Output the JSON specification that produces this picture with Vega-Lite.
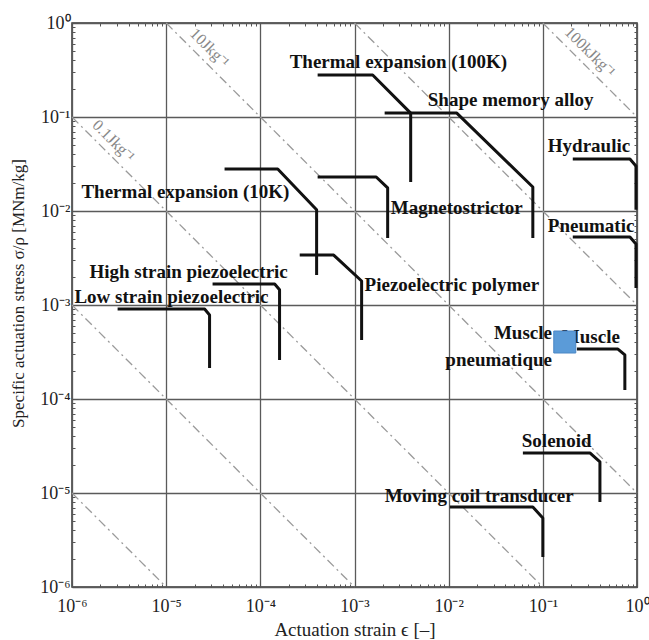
{
  "$schema": "https://vega.github.io/schema/vega-lite/v6.json",
  "width": 565,
  "height": 564,
  "autosize": "none",
  "padding": {"left": 72, "top": 23, "right": 12, "bottom": 53},
  "background": "white",
  "config": {
    "font": "Liberation Serif",
    "view": {"stroke": "#333", "strokeWidth": 1.5}
  },
  "datasets": {
    "curves": [
      {"s": "Thermal expansion (100K)", "i": 0, "x": 4.06e-4, "y": 0.28},
      {"s": "Thermal expansion (100K)", "i": 1, "x": 1.56e-3, "y": 0.28},
      {"s": "Thermal expansion (100K)", "i": 2, "x": 3.95e-3, "y": 0.110},
      {"s": "Thermal expansion (100K)", "i": 3, "x": 3.95e-3, "y": 0.0204},
      {"s": "Shape memory alloy", "i": 0, "x": 2.09e-3, "y": 0.110},
      {"s": "Shape memory alloy", "i": 1, "x": 0.0122, "y": 0.110},
      {"s": "Shape memory alloy", "i": 2, "x": 0.0783, "y": 0.018},
      {"s": "Shape memory alloy", "i": 3, "x": 0.0783, "y": 5.16e-3},
      {"s": "Thermal expansion (10K)", "i": 0, "x": 4.17e-5, "y": 0.028},
      {"s": "Thermal expansion (10K)", "i": 1, "x": 1.53e-4, "y": 0.028},
      {"s": "Thermal expansion (10K)", "i": 2, "x": 3.96e-4, "y": 0.0103},
      {"s": "Thermal expansion (10K)", "i": 3, "x": 3.96e-4, "y": 2.08e-3},
      {"s": "Piezoelectric polymer", "i": 0, "x": 2.62e-4, "y": 3.40e-3},
      {"s": "Piezoelectric polymer", "i": 1, "x": 6.01e-4, "y": 3.40e-3},
      {"s": "Piezoelectric polymer", "i": 2, "x": 1.19e-3, "y": 1.80e-3},
      {"s": "Piezoelectric polymer", "i": 3, "x": 1.19e-3, "y": 4.25e-4},
      {"s": "Magnetostrictor", "i": 0, "x": 4.06e-4, "y": 0.023},
      {"s": "Magnetostrictor", "i": 1, "x": 1.70e-3, "y": 0.023},
      {"s": "Magnetostrictor", "i": 2, "x": 2.25e-3, "y": 0.0176},
      {"s": "Magnetostrictor", "i": 3, "x": 2.25e-3, "y": 5.16e-3},
      {"s": "Hydraulic", "i": 0, "x": 0.208, "y": 0.0357},
      {"s": "Hydraulic", "i": 1, "x": 0.841, "y": 0.0357},
      {"s": "Hydraulic", "i": 2, "x": 0.975, "y": 0.0301},
      {"s": "Hydraulic", "i": 3, "x": 0.975, "y": 0.0103},
      {"s": "Pneumatic", "i": 0, "x": 0.208, "y": 5.28e-3},
      {"s": "Pneumatic", "i": 1, "x": 0.841, "y": 5.28e-3},
      {"s": "Pneumatic", "i": 2, "x": 0.975, "y": 4.46e-3},
      {"s": "Pneumatic", "i": 3, "x": 0.975, "y": 1.52e-3},
      {"s": "High strain piezoelectric", "i": 0, "x": 3.11e-5, "y": 1.67e-3},
      {"s": "High strain piezoelectric", "i": 1, "x": 1.42e-4, "y": 1.67e-3},
      {"s": "High strain piezoelectric", "i": 2, "x": 1.60e-4, "y": 1.45e-3},
      {"s": "High strain piezoelectric", "i": 3, "x": 1.60e-4, "y": 2.60e-4},
      {"s": "Low strain piezoelectric", "i": 0, "x": 3.05e-6, "y": 9.06e-4},
      {"s": "Low strain piezoelectric", "i": 1, "x": 2.56e-5, "y": 9.06e-4},
      {"s": "Low strain piezoelectric", "i": 2, "x": 2.89e-5, "y": 7.83e-4},
      {"s": "Low strain piezoelectric", "i": 3, "x": 2.89e-5, "y": 2.14e-4},
      {"s": "Muscle", "i": 0, "x": 0.230, "y": 3.40e-4},
      {"s": "Muscle", "i": 1, "x": 0.627, "y": 3.40e-4},
      {"s": "Muscle", "i": 2, "x": 0.743, "y": 2.94e-4},
      {"s": "Muscle", "i": 3, "x": 0.743, "y": 1.25e-4},
      {"s": "Solenoid", "i": 0, "x": 0.0614, "y": 2.67e-5},
      {"s": "Solenoid", "i": 1, "x": 0.316, "y": 2.67e-5},
      {"s": "Solenoid", "i": 2, "x": 0.404, "y": 2.14e-5},
      {"s": "Solenoid", "i": 3, "x": 0.404, "y": 8.0e-6},
      {"s": "Moving coil transducer", "i": 0, "x": 0.0103, "y": 7.10e-6},
      {"s": "Moving coil transducer", "i": 1, "x": 0.0783, "y": 7.10e-6},
      {"s": "Moving coil transducer", "i": 2, "x": 0.1, "y": 5.42e-6},
      {"s": "Moving coil transducer", "i": 3, "x": 0.1, "y": 2.08e-6}
    ],
    "energy": [
      {"p": "1e-11", "x": 1e-6, "y": 1e-5}, {"p": "1e-11", "x": 1e-5, "y": 1e-6},
      {"p": "1e-9", "x": 1e-6, "y": 1e-3}, {"p": "1e-9", "x": 1e-3, "y": 1e-6},
      {"p": "1e-7", "x": 1e-6, "y": 1e-1}, {"p": "1e-7", "x": 1e-1, "y": 1e-6},
      {"p": "1e-5", "x": 1e-5, "y": 1}, {"p": "1e-5", "x": 1, "y": 1e-5},
      {"p": "1e-3", "x": 1e-3, "y": 1}, {"p": "1e-3", "x": 1, "y": 1e-3},
      {"p": "1e-1", "x": 1e-1, "y": 1}, {"p": "1e-1", "x": 1, "y": 1e-1}
    ],
    "elabels": [
      {"t": "10Jkg⁻¹", "x": 2.89e-5, "y": 0.542},
      {"t": "0.1Jkg⁻¹", "x": 2.76e-6, "y": 0.0556},
      {"t": "100kJkg⁻¹", "x": 0.316, "y": 0.491}
    ],
    "labelsLeft": [
      {"t": "Thermal expansion (100K)", "x": 2.05e-4, "y": 0.385},
      {"t": "Shape memory alloy", "x": 6.0e-3, "y": 0.152},
      {"t": "Hydraulic", "x": 0.113, "y": 0.049},
      {"t": "Thermal expansion (10K)", "x": 1.26e-6, "y": 0.0159},
      {"t": "Magnetostrictor", "x": 2.43e-3, "y": 0.0108},
      {"t": "Pneumatic", "x": 0.113, "y": 6.92e-3},
      {"t": "High strain piezoelectric", "x": 1.53e-6, "y": 2.24e-3},
      {"t": "Low strain piezoelectric", "x": 1.06e-6, "y": 1.22e-3},
      {"t": "Piezoelectric polymer", "x": 1.28e-3, "y": 1.63e-3},
      {"t": "Solenoid", "x": 0.0598, "y": 3.57e-5},
      {"t": "Moving coil transducer", "x": 2.09e-3, "y": 9.29e-6},
      {"t": "Muscle", "x": 0.159, "y": 4.57e-4}
    ],
    "labelsRight": [
      {"t": "Muscle", "x": 0.125, "y": 5.04e-4},
      {"t": "pneumatique", "x": 0.125, "y": 2.60e-4}
    ],
    "square": [
      {"t": "Muscle pneumatique", "x": 0.171, "y": 4.04e-4}
    ]
  },
  "resolve": {"axis": {"x": "independent", "y": "independent"}},
  "layer": [
    {
      "data": {"name": "energy"},
      "mark": {"type": "line", "color": "#9a9a9a", "strokeWidth": 1.3, "strokeDash": [9, 4, 2, 4]},
      "encoding": {
        "x": {"field": "x", "type": "quantitative",
          "scale": {"type": "log", "domain": [1e-6, 1], "nice": false},
          "axis": {"orient": "top", "labels": false, "grid": false, "domain": false, "title": null,
            "values": [1e-6,2e-6,3e-6,4e-6,5e-6,6e-6,7e-6,8e-6,9e-6,1e-5,2e-5,3e-5,4e-5,5e-5,6e-5,7e-5,8e-5,9e-5,1e-4,2e-4,3e-4,4e-4,5e-4,6e-4,7e-4,8e-4,9e-4,1e-3,2e-3,3e-3,4e-3,5e-3,6e-3,7e-3,8e-3,9e-3,1e-2,2e-2,3e-2,4e-2,5e-2,6e-2,7e-2,8e-2,9e-2,1e-1,2e-1,3e-1,4e-1,5e-1,6e-1,7e-1,8e-1,9e-1,1],
            "tickColor": "#555",
            "tickSize": {"condition": {"test": "abs(log(datum.value)/LN10 - round(log(datum.value)/LN10)) < 0.001", "value": -6}, "value": -3}}},
        "y": {"field": "y", "type": "quantitative",
          "scale": {"type": "log", "domain": [1e-6, 1], "nice": false},
          "axis": {"orient": "right", "labels": false, "grid": false, "domain": false, "title": null,
            "values": [1e-6,2e-6,3e-6,4e-6,5e-6,6e-6,7e-6,8e-6,9e-6,1e-5,2e-5,3e-5,4e-5,5e-5,6e-5,7e-5,8e-5,9e-5,1e-4,2e-4,3e-4,4e-4,5e-4,6e-4,7e-4,8e-4,9e-4,1e-3,2e-3,3e-3,4e-3,5e-3,6e-3,7e-3,8e-3,9e-3,1e-2,2e-2,3e-2,4e-2,5e-2,6e-2,7e-2,8e-2,9e-2,1e-1,2e-1,3e-1,4e-1,5e-1,6e-1,7e-1,8e-1,9e-1,1],
            "tickColor": "#555",
            "tickSize": {"condition": {"test": "abs(log(datum.value)/LN10 - round(log(datum.value)/LN10)) < 0.001", "value": -6}, "value": -3}}},
        "detail": {"field": "p", "type": "nominal"}
      }
    },
    {
      "data": {"name": "curves"},
      "mark": {"type": "line", "color": "#111", "strokeWidth": 3, "strokeJoin": "round"},
      "encoding": {
        "x": {"field": "x", "type": "quantitative",
          "scale": {"type": "log", "domain": [1e-6, 1], "nice": false},
          "axis": {"orient": "bottom", "title": "Actuation strain ϵ [–]", "domain": false,
            "titleFont": "Liberation Serif", "titleFontSize": 19, "titleFontWeight": "normal", "titleColor": "#222", "titleY": 42, "titleBaseline": "middle",
            "labelFont": "Liberation Serif", "labelFontSize": 18, "labelColor": "#222", "labelPadding": 16, "labelOverlap": false, "labelFlush": false,
            "values": [1e-6,2e-6,3e-6,4e-6,5e-6,6e-6,7e-6,8e-6,9e-6,1e-5,2e-5,3e-5,4e-5,5e-5,6e-5,7e-5,8e-5,9e-5,1e-4,2e-4,3e-4,4e-4,5e-4,6e-4,7e-4,8e-4,9e-4,1e-3,2e-3,3e-3,4e-3,5e-3,6e-3,7e-3,8e-3,9e-3,1e-2,2e-2,3e-2,4e-2,5e-2,6e-2,7e-2,8e-2,9e-2,1e-1,2e-1,3e-1,4e-1,5e-1,6e-1,7e-1,8e-1,9e-1,1],
            "labelExpr": "abs(log(datum.value)/LN10 - round(log(datum.value)/LN10)) > 0.001 ? '' : (round(log(datum.value)/LN10) == 0 ? '10⁰' : round(log(datum.value)/LN10) == -1 ? '10⁻¹' : round(log(datum.value)/LN10) == -2 ? '10⁻²' : round(log(datum.value)/LN10) == -3 ? '10⁻³' : round(log(datum.value)/LN10) == -4 ? '10⁻⁴' : round(log(datum.value)/LN10) == -5 ? '10⁻⁵' : '10⁻⁶')",
            "grid": true, "gridColor": "#5a5a5a", "gridWidth": 1.3,
            "gridOpacity": {"condition": {"test": "abs(log(datum.value)/LN10 - round(log(datum.value)/LN10)) < 0.001", "value": 1}, "value": 0},
            "tickColor": "#555",
            "tickSize": {"condition": {"test": "abs(log(datum.value)/LN10 - round(log(datum.value)/LN10)) < 0.001", "value": -6}, "value": -3}}},
        "y": {"field": "y", "type": "quantitative",
          "scale": {"type": "log", "domain": [1e-6, 1], "nice": false},
          "axis": {"orient": "left", "title": "Specific actuation stress σ/ρ [MNm/kg]", "domain": false,
            "titleFont": "Liberation Serif", "titleFontSize": 17, "titleFontWeight": "normal", "titleColor": "#222", "titleX": -54, "titleY": 270, "titleAlign": "center", "titleBaseline": "middle", "titleAngle": 270,
            "labelFont": "Liberation Serif", "labelFontSize": 18, "labelColor": "#222", "labelPadding": 8, "labelOverlap": false, "labelFlush": false,
            "values": [1e-6,2e-6,3e-6,4e-6,5e-6,6e-6,7e-6,8e-6,9e-6,1e-5,2e-5,3e-5,4e-5,5e-5,6e-5,7e-5,8e-5,9e-5,1e-4,2e-4,3e-4,4e-4,5e-4,6e-4,7e-4,8e-4,9e-4,1e-3,2e-3,3e-3,4e-3,5e-3,6e-3,7e-3,8e-3,9e-3,1e-2,2e-2,3e-2,4e-2,5e-2,6e-2,7e-2,8e-2,9e-2,1e-1,2e-1,3e-1,4e-1,5e-1,6e-1,7e-1,8e-1,9e-1,1],
            "labelExpr": "abs(log(datum.value)/LN10 - round(log(datum.value)/LN10)) > 0.001 ? '' : (round(log(datum.value)/LN10) == 0 ? '10⁰' : round(log(datum.value)/LN10) == -1 ? '10⁻¹' : round(log(datum.value)/LN10) == -2 ? '10⁻²' : round(log(datum.value)/LN10) == -3 ? '10⁻³' : round(log(datum.value)/LN10) == -4 ? '10⁻⁴' : round(log(datum.value)/LN10) == -5 ? '10⁻⁵' : '10⁻⁶')",
            "grid": true, "gridColor": "#5a5a5a", "gridWidth": 1.3,
            "gridOpacity": {"condition": {"test": "abs(log(datum.value)/LN10 - round(log(datum.value)/LN10)) < 0.001", "value": 1}, "value": 0},
            "tickColor": "#555",
            "tickSize": {"condition": {"test": "abs(log(datum.value)/LN10 - round(log(datum.value)/LN10)) < 0.001", "value": -6}, "value": -3}}},
        "detail": {"field": "s", "type": "nominal"},
        "order": {"field": "i", "type": "quantitative"}
      }
    },
    {
      "data": {"name": "elabels"},
      "mark": {"type": "text", "font": "Liberation Serif", "fontSize": 16, "color": "#888", "angle": 45, "align": "center", "baseline": "middle"},
      "encoding": {
        "x": {"field": "x", "type": "quantitative", "scale": {"type": "log", "domain": [1e-6, 1], "nice": false}, "axis": null},
        "y": {"field": "y", "type": "quantitative", "scale": {"type": "log", "domain": [1e-6, 1], "nice": false}, "axis": null},
        "text": {"field": "t", "type": "nominal"}
      }
    },
    {
      "data": {"name": "labelsLeft"},
      "mark": {"type": "text", "font": "Liberation Serif", "fontSize": 19, "fontWeight": "bold", "color": "#111", "align": "left", "baseline": "middle"},
      "encoding": {
        "x": {"field": "x", "type": "quantitative", "scale": {"type": "log", "domain": [1e-6, 1], "nice": false}, "axis": null},
        "y": {"field": "y", "type": "quantitative", "scale": {"type": "log", "domain": [1e-6, 1], "nice": false}, "axis": null},
        "text": {"field": "t", "type": "nominal"}
      }
    },
    {
      "data": {"name": "labelsRight"},
      "mark": {"type": "text", "font": "Liberation Serif", "fontSize": 19, "fontWeight": "bold", "color": "#111", "align": "right", "baseline": "middle"},
      "encoding": {
        "x": {"field": "x", "type": "quantitative", "scale": {"type": "log", "domain": [1e-6, 1], "nice": false}, "axis": null},
        "y": {"field": "y", "type": "quantitative", "scale": {"type": "log", "domain": [1e-6, 1], "nice": false}, "axis": null},
        "text": {"field": "t", "type": "nominal"}
      }
    },
    {
      "data": {"name": "square"},
      "mark": {"type": "point", "shape": "square", "filled": true, "size": 484, "color": "#5b9bd8", "opacity": 1, "stroke": "#4a86c5", "strokeWidth": 1},
      "encoding": {
        "x": {"field": "x", "type": "quantitative", "scale": {"type": "log", "domain": [1e-6, 1], "nice": false}, "axis": null},
        "y": {"field": "y", "type": "quantitative", "scale": {"type": "log", "domain": [1e-6, 1], "nice": false}, "axis": null}
      }
    }
  ]
}
